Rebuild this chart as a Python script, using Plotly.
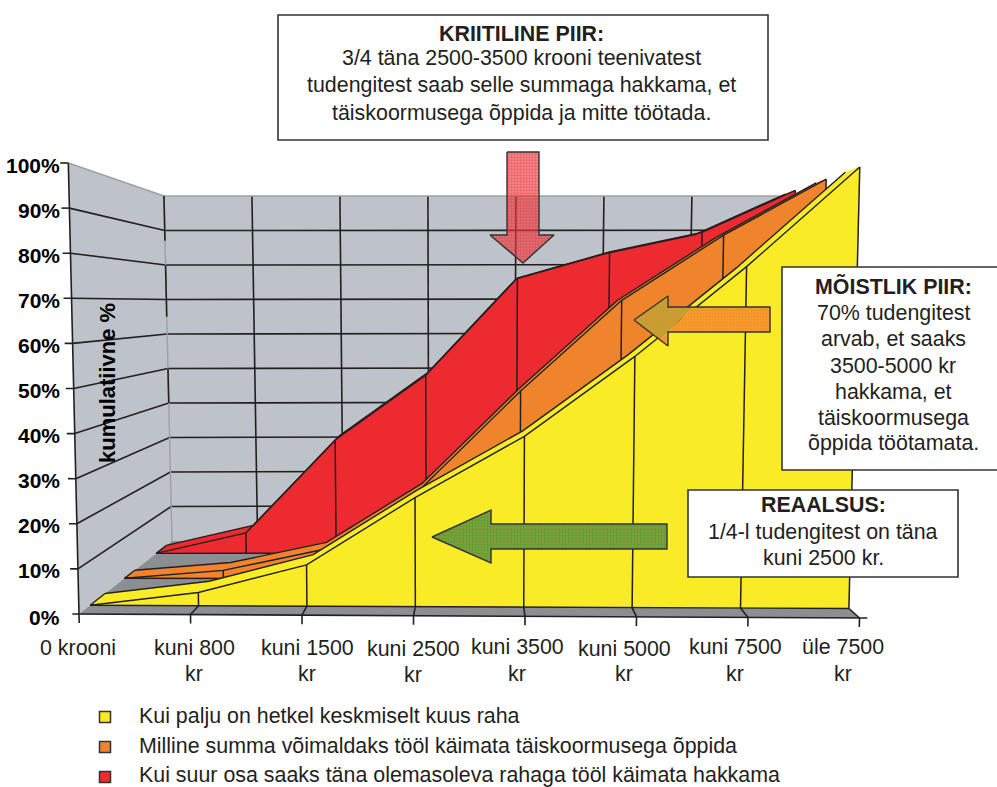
import plotly.graph_objects as go

# ---- data ----
CATEGORIES = ["0 krooni", "kuni 800<br>kr", "kuni 1500<br>kr", "kuni 2500<br>kr",
              "kuni 3500<br>kr", "kuni 5000<br>kr", "kuni 7500<br>kr", "üle 7500<br>kr"]
PERCENT_TICKS = [0, 10, 20, 30, 40, 50, 60, 70, 80, 90, 100]
YELLOW_VALUES = [0, 3, 9.4, 24.8, 38.8, 57, 77.4, 100]
ORANGE_VALUES = [0, 2, 7.2, 22.5, 47, 69.7, 86, 100]
RED_VALUES = [0, 5.6, 31.2, 49, 75.8, 83, 88.4, 100]
SERIES_NAMES = ["Kui palju on hetkel keskmiselt kuus raha",
                "Milline summa võimaldaks tööl käimata täiskoormusega õppida",
                "Kui suur osa saaks täna olemasoleva rahaga tööl käimata hakkama"]

# ---- styles / layout constants ----
FONT = "Liberation Sans"
INK = "#231F20"
WALL = "#BEC2C9"
FLOOR = "#8B8F94"
COL_Y, COL_O, COL_R = "#F9EC26", "#F0842C", "#EC2A2F"
DEPTHS = {"y": (0.12, 0.28), "o": (0.49, 0.60), "r": (0.83, 0.94)}
LABEL_X = [78, 194, 307, 413, 517, 624, 735, 843]
LABEL_Y1 = [648, 648, 648, 649, 647, 649, 647, 647]
LABEL_Y2 = [None, 674, 674, 675, 674, 674, 674, 674]
LEGEND_Y = [716, 746, 775]
TEXT_SIZE = 21.4


def P(k, v, d):
    """Chart projection: category index, percent, depth (0 front, 1 back wall)."""
    xb = 79 + 93 * d + k * (111.5 - 25.9 * d)
    x = 460 + (xb - 460) * (1 + 0.028 * v / 100)
    y = (614 - 73 * d) - v / 100 * (451 - 106 * d) + (4 - 6 * d) * k / 7 * (1 - v / 100)
    return x, y


def path(pts):
    xs, ys = [], []
    for p in pts:
        xs.append(p[0]); ys.append(p[1])
    return xs, ys


fig = go.Figure()


def poly(pts, fill, **kw):
    xs, ys = path(pts + [pts[0]])
    fig.add_trace(go.Scatter(x=xs, y=ys, mode="lines", fill="toself", fillcolor=fill,
                             line=dict(width=0, color=fill), hoverinfo="skip",
                             showlegend=False, **kw))


def lines(segs, color=INK, width=1.6):
    xs, ys = [], []
    for s in segs:
        for p in s:
            xs.append(p[0]); ys.append(p[1])
        xs.append(None); ys.append(None)
    fig.add_trace(go.Scatter(x=xs, y=ys, mode="lines", line=dict(color=color, width=width),
                             hoverinfo="skip", showlegend=False))


# walls and floor
poly([P(0, 0, 0), P(0, 100, 0), P(0, 100, 1), P(0, 0, 1)], WALL)
poly([P(0, 0, 1), P(0, 100, 1), P(7, 100, 1), P(7, 0, 1)], WALL)
poly([P(0, 0, 0), P(0, 0, 1), P(7, 0, 1), P(7, 0, 0)], FLOOR)

# gridlines
lines([[P(0, v, 0), P(0, v, 1), P(7, v, 1)] for v in PERCENT_TICKS[1:-1]])
lines([[P(k, 0, 1), P(k, 100, 1)] for k in range(1, 7)])
lines([[P(0, 100, 0), P(0, 100, 1), P(7, 100, 1)], [P(0, 0, 1), P(0, 100, 1)]], "#9CA0A6", 1.4)
lines([[P(0, 100, 1), P(0, 87, 1)], [P(0, 80, 1), P(0, 65, 1)], [P(0, 50, 1), P(0, 40, 1)]])
lines([[P(0, 0, 0), P(0, 100, 0)]])


def series(values, key, color):
    d0, d1 = DEPTHS[key]
    n = len(values)
    # side ribbon
    xs, ys = [], []
    for k in range(n - 1):
        quad = [P(k, values[k], d0), P(k + 1, values[k + 1], d0),
                P(k + 1, values[k + 1], d1), P(k, values[k], d1), P(k, values[k], d0)]
        for p in quad:
            xs.append(p[0]); ys.append(p[1])
        xs.append(None); ys.append(None)
    fig.add_trace(go.Scatter(x=xs, y=ys, mode="lines", fill="toself", fillcolor=color,
                             line=dict(width=0.5, color=color), hoverinfo="skip", showlegend=False))
    # front face
    face = [P(k, values[k], d0) for k in range(n)] + [P(n - 1, 0, d0), P(0, 0, d0)]
    poly(face, color)
    # contours
    lines([[P(k, values[k], d0) for k in range(n)],
           [P(k, values[k], d1) for k in range(n)],
           [P(0, 0, d0), P(n - 1, 0, d0)],
           [P(0, 0, d0), P(0, 0, d1)]], width=1.4)
    lines([[P(k, 0, d0), P(k, values[k], d0)] for k in range(1, n)], width=1.5)


series(RED_VALUES, "r", COL_R)
series(ORANGE_VALUES, "o", COL_O)
series(YELLOW_VALUES, "y", COL_Y)

# axis lines and ticks
lines([[P(-0.06, 0, 0), P(7.07, 0, 0)]])
lines([[P(k, 0, DEPTHS["y"][0]), P(k, 0, 0), P(k, -2, 0)] for k in range(1, 8)] + [[P(0, 0, 0), P(0, -2, 0)]])
lines([[P(-0.07, v, 0), P(0, v, 0)] for v in PERCENT_TICKS[1:]])


# callout arrows
def arrow(pts, fg, bg=None, size=3, solidity=0.6):
    xs, ys = path(pts + [pts[0]])
    fig.add_trace(go.Scatter(x=xs, y=ys, mode="lines", fill="toself",
                             fillpattern=dict(shape=".", fgcolor=fg, bgcolor=bg or "rgba(0,0,0,0)",
                                              size=size, solidity=solidity),
                             line=dict(color="rgba(0,0,0,0)", width=0),
                             hoverinfo="skip", showlegend=False))


RED_ARROW = [(507, 152), (539, 152), (539, 235), (554, 235), (523, 263), (490, 235), (507, 235)]
arrow(RED_ARROW, "#E8343A", "rgba(236,60,60,0.5)", solidity=0.75)
lines([RED_ARROW + [RED_ARROW[0]]], "#333333", 1.4)
arrow([(634, 320), (668, 296), (668, 307), (693, 307), (660, 340)], "#8DBB3F", "#E0902C")
arrow([(693, 307), (770, 307), (770, 332), (668, 332), (668, 346), (660, 340)], "#F0842C", "#F5A02A")
ORANGE_ARROW = [(634, 320), (668, 296), (668, 307), (770, 307), (770, 332), (668, 332), (668, 346)]
lines([ORANGE_ARROW + [ORANGE_ARROW[0]]], "#333333", 1.4)
GREEN_ARROW = [(432, 537), (491, 510), (491, 524), (667, 524), (667, 549), (491, 549), (491, 563)]
arrow(GREEN_ARROW, "#1F9A4C", "#9FA02A", solidity=0.7)
lines([GREEN_ARROW + [GREEN_ARROW[0]]], "#333333", 1.4)

# legend swatches
fig.add_trace(go.Scatter(x=[105, 105, 105], y=[717, 747, 777], mode="markers", hoverinfo="skip",
                         showlegend=False,
                         marker=dict(symbol="square", size=11, color=[COL_Y, COL_O, COL_R],
                                     line=dict(color="#333333", width=1.5))))

shapes = [
    dict(type="rect", x0=278, y0=15, x1=768, y1=140),
    dict(type="rect", x0=782, y0=267, x1=1002, y1=470),
    dict(type="rect", x0=688, y0=490, x1=958, y1=577),
]
for s in shapes:
    s.update(line=dict(color="#333333", width=1.6), fillcolor="white", layer="above",
             xref="x", yref="y")

ann = []


def text(x, y, t, size=TEXT_SIZE, bold=False, **kw):
    ann.append(dict(x=x, y=y, text=f"<b>{t}</b>" if bold else t, showarrow=False,
                    xref="x", yref="y", xanchor=kw.pop("xanchor", "center"), yanchor="middle",
                    font=dict(family=FONT, size=size, color=kw.pop("color", INK)), **kw))


for i, v in enumerate(PERCENT_TICKS):
    text(62, P(0, v, 0)[1] + 2 if v else 617, f"{v}%", size=21, bold=True, xanchor="right", color="#000000")
for lx, y1, y2, c in zip(LABEL_X, LABEL_Y1, LABEL_Y2, CATEGORIES):
    parts = c.split("<br>")
    text(lx, y1, parts[0])
    if y2:
        text(lx, y2, parts[1])
text(107, 383, "kumulatiivne %", size=22, bold=True, textangle=-90, color="#000000")
for y, name in zip(LEGEND_Y, SERIES_NAMES):
    text(137, y, name, xanchor="left")

BOX1 = ["3/4 täna 2500-3500 krooni teenivatest", "tudengitest saab selle summaga hakkama, et",
        "täiskoormusega õppida ja mitte töötada."]
text(521, 34, "KRIITILINE PIIR:", bold=True)
for y, t in zip([58, 85, 113], BOX1):
    text(521, y, t)
BOX2 = ["70% tudengitest", "arvab, et saaks", "3500-5000 kr", "hakkama, et", "täiskoormusega", "õppida töötamata."]
text(893, 286, "MÕISTLIK PIIR:", bold=True)
for y, t in zip([313, 339, 366, 392, 418, 443], BOX2):
    text(893, y, t)
text(823, 505, "REAALSUS:", bold=True)
for y, t in zip([532, 558], ["1/4-l tudengitest on täna", "kuni 2500 kr."]):
    text(823, y, t)

fig.update_layout(
    width=997, height=787, margin=dict(l=0, r=0, t=0, b=0, autoexpand=False),
    paper_bgcolor="white", plot_bgcolor="white", showlegend=False,
    xaxis=dict(range=[0, 997], visible=False, fixedrange=True),
    yaxis=dict(range=[787, 0], visible=False, fixedrange=True),
    shapes=shapes, annotations=ann,
)
fig.write_html("out.html", config=dict(displayModeBar=False),
               post_script="document.body.style.margin='0';")
